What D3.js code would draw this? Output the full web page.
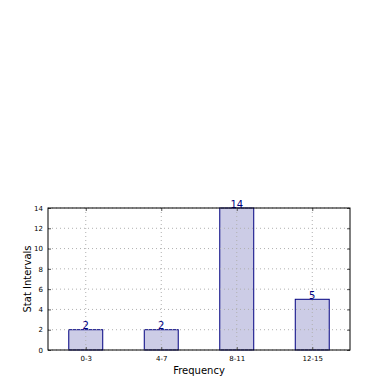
<!DOCTYPE html>
<html>
<head>
<meta charset="utf-8">
<script src="https://cdn.jsdelivr.net/npm/d3@7"></script>
<style>
  body { margin: 0; background: #fff; }
  svg { display: block; font-family: "DejaVu Sans", sans-serif; }
</style>
</head>
<body>
<div id="chart"></div>
<script>
// data
var categories = ["0-3", "4-7", "8-11", "12-15"];
var counts = [2, 2, 14, 5];
var yTicks = [0, 2, 4, 6, 8, 10, 12, 14];

var w = 390, h = 390;
var margin = { top: 208, right: 40, bottom: 40, left: 48 };
var width = w - margin.left - margin.right;
var height = h - margin.top - margin.bottom;

var svg = d3.select("#chart").append("svg")
    .attr("width", w).attr("height", h);
var g = svg.append("g")
    .attr("transform", "translate(" + margin.left + "," + margin.top + ")");

// index scale like matplotlib: bars at 0..3, axis from -0.5 to 3.5
var scale_x = d3.scaleLinear().domain([-0.5, categories.length - 0.5]).range([0, width]);
var scale_y = d3.scaleLinear().domain([0, 14]).range([height, 0]);
var barW = 0.45;

// bars
g.selectAll("rect.bar")
    .data(counts).enter().append("rect")
    .attr("class", "bar")
    .attr("x", function (d, i) { return scale_x(i - barW / 2); })
    .attr("y", function (d) { return scale_y(d); })
    .attr("width", scale_x(barW) - scale_x(0))
    .attr("height", function (d) { return height - scale_y(d); })
    .attr("fill", "#ccccE6")
    .attr("stroke", "#000080")
    .attr("stroke-width", 1);

// grid on top of bars
var grid = g.append("g").attr("class", "grid");
grid.selectAll("line.gy")
    .data(yTicks).enter().append("line")
    .attr("x1", 0).attr("x2", width)
    .attr("y1", function (d) { return scale_y(d); })
    .attr("y2", function (d) { return scale_y(d); })
    .attr("stroke", "#b0b0b0").attr("stroke-width", 1)
    .attr("stroke-dasharray", "1,3");
grid.selectAll("line.gx")
    .data(categories).enter().append("line")
    .attr("x1", function (d, i) { return scale_x(i); })
    .attr("x2", function (d, i) { return scale_x(i); })
    .attr("y1", 0).attr("y2", height)
    .attr("stroke", "#b0b0b0").attr("stroke-width", 1)
    .attr("stroke-dasharray", "1,3");

// value labels
g.selectAll("text.val")
    .data(counts).enter().append("text")
    .attr("class", "val")
    .attr("x", function (d, i) { return scale_x(i); })
    .attr("y", function (d) { return scale_y(d) - 0.5; })
    .attr("text-anchor", "middle")
    .attr("font-size", "10px")
    .attr("fill", "#000080")
    .text(function (d) { return d; });

// axes, ticks pointing inward
var xAxis = d3.axisBottom(scale_x)
    .tickValues(d3.range(categories.length))
    .tickFormat(function (d) { return categories[d]; })
    .tickSizeInner(-3).tickSizeOuter(0).tickPadding(6);
var xBar = g.append("g").attr("class", "axis x")
    .attr("transform", "translate(0," + height + ")").call(xAxis);

var yAxis = d3.axisLeft(scale_y)
    .tickValues(yTicks).tickFormat(d3.format("d"))
    .tickSizeInner(-3).tickSizeOuter(0).tickPadding(5);
var yBar = g.append("g").attr("class", "axis y").call(yAxis);

// mirrored ticks on top/right
g.append("g").attr("transform", "translate(" + width + ",0)")
    .call(d3.axisRight(scale_y).tickValues(yTicks).tickSizeInner(-3).tickSizeOuter(0).tickFormat(""));
g.append("g")
    .call(d3.axisTop(scale_x).tickValues(d3.range(categories.length)).tickSizeInner(-3).tickSizeOuter(0).tickFormat(""));

g.selectAll(".domain").remove();
g.selectAll(".tick line").attr("stroke", "#555");
g.selectAll(".axis text").attr("font-size", "7px").attr("fill", "#000")
    .attr("font-family", "DejaVu Sans, sans-serif");

// frame
g.append("rect")
    .attr("width", width).attr("height", height)
    .attr("fill", "none").attr("stroke", "#000").attr("stroke-width", 1);

// axis labels
svg.append("text")
    .attr("x", margin.left + width / 2).attr("y", 374)
    .attr("text-anchor", "middle").attr("font-size", "10px")
    .text("Frequency");
svg.append("text")
    .attr("transform", "translate(31," + (margin.top + height / 2) + ") rotate(-90)")
    .attr("text-anchor", "middle").attr("font-size", "10px")
    .text("Stat Intervals");
</script>
</body>
</html>
